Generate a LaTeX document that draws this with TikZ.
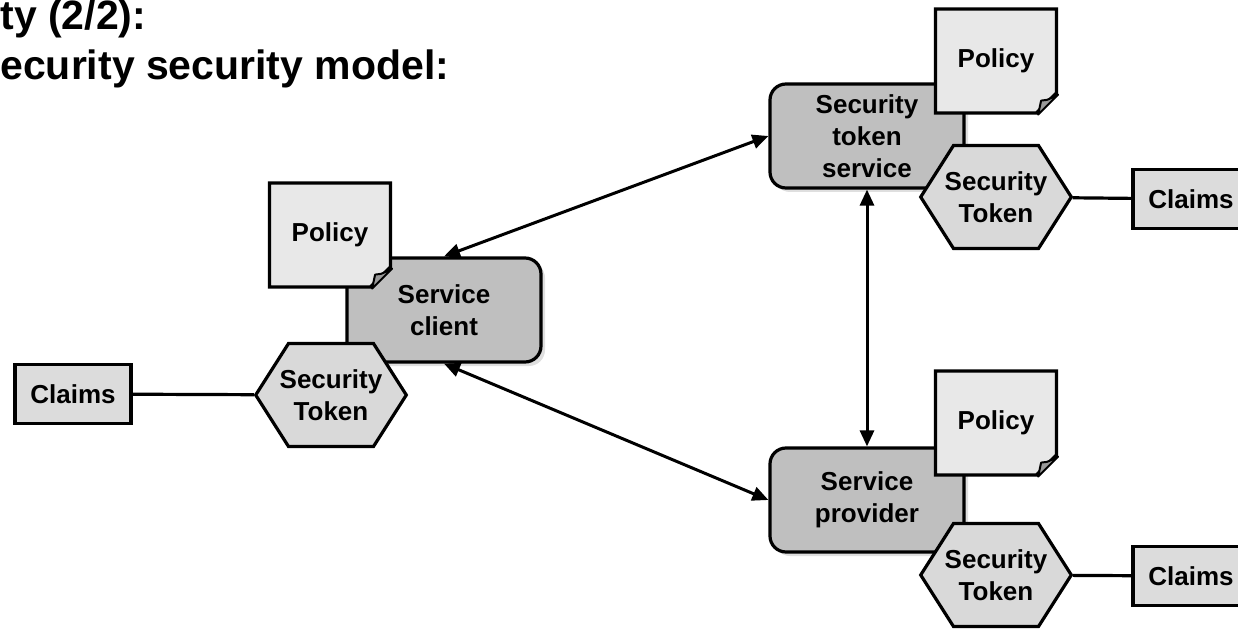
\documentclass[tikz,border=0pt]{standalone}
\usepackage{fontspec}
\setmainfont{Liberation Sans}
\usetikzlibrary{shapes.misc,shapes.symbols,arrows.meta,shadows}

\definecolor{svcgray}{HTML}{BFBFBF}
\definecolor{docgray}{HTML}{E8E8E8}
\definecolor{hexgray}{HTML}{D9D9D9}
\definecolor{claimgray}{HTML}{DCDCDC}
\definecolor{foldgray}{HTML}{9A9A9A}

\begin{document}
\begin{tikzpicture}[
    x=0.5pt, y=-0.5pt,
    every node/.style={font=\fontsize{13}{16}\selectfont\bfseries, align=center},
    title/.style={font=\fontsize{20.5}{25}\selectfont\bfseries, inner sep=0pt, anchor=base west},
    service/.style={rectangle, rounded corners=8pt, draw, line width=1.6pt, fill=svcgray,
        minimum width=97pt, minimum height=52pt,
        drop shadow={opacity=0.25, shadow xshift=2pt, shadow yshift=-2pt}},
    policy/.style={chamfered rectangle, chamfered rectangle corners=south east,
        chamfered rectangle xsep=5pt, chamfered rectangle ysep=5pt,
        draw, line width=1.6pt, fill=docgray, minimum width=60.5pt, minimum height=52pt},
    fold/.style={draw, line width=1pt, fill=foldgray, line join=round},
    token/.style={signal, signal to=west and east, signal pointer angle=115,
        draw, line width=1.6pt, fill=hexgray, minimum height=51.5pt,
        inner xsep=-4.4pt, inner ysep=1pt},
    claims/.style={rectangle, draw, line width=1.6pt, fill=claimgray, minimum width=58pt, minimum height=29.5pt},
    link/.style={line width=1.6pt},
    arrow/.style={{Triangle[length=8pt,width=7pt]}-{Triangle[length=8pt,width=7pt]}, line width=1.5pt},
]
\useasboundingbox (0,0) rectangle (1238,631);

% ====== Title ======
\node[title] (title1) at (0,30) {ty (2/2):};
\node[title] (title2) at (0,80) {ecurity security model:};

% ====== Service client ======
\node[service] (client) at (444,310) {Service\\client};
\node[policy] (cpol) at (330,235) {Policy};
\coordinate (cfold) at (cpol.north east |- cpol.south);
\filldraw[fold] ([yshift=10pt]cfold) .. controls ([shift={(-6pt,7pt)}]cfold) .. ([shift={(-8.5pt,7pt)}]cfold) -- ([xshift=-10pt]cfold) -- cycle;
\node[token] (ctok) at (331,395) {Security\\Token};
\node[claims] (cclaims) at (73,394) {Claims};

% ====== Security token service ======
\node[service] (sts) at (867,136) {Security\\token\\service};
\node[policy] (spol) at (996,61) {Policy};
\coordinate (sfold) at (spol.north east |- spol.south);
\filldraw[fold] ([yshift=10pt]sfold) .. controls ([shift={(-6pt,7pt)}]sfold) .. ([shift={(-8.5pt,7pt)}]sfold) -- ([xshift=-10pt]sfold) -- cycle;
\node[token] (stok) at (996,197) {Security\\Token};
\node[claims] (sclaims) at (1191,199) {Claims};

% ====== Service provider ======
\node[service] (prov) at (867,500) {Service\\provider};
\node[policy] (ppol) at (996,423) {Policy};
\coordinate (pfold) at (ppol.north east |- ppol.south);
\filldraw[fold] ([yshift=10pt]pfold) .. controls ([shift={(-6pt,7pt)}]pfold) .. ([shift={(-8.5pt,7pt)}]pfold) -- ([xshift=-10pt]pfold) -- cycle;
\node[token] (ptok) at (996,575) {Security\\Token};
\node[claims] (pclaims) at (1191,576) {Claims};

% ====== Connectors ======
\draw[link] (cclaims) -- (ctok);
\draw[link] (stok) -- (sclaims);
\draw[link] (ptok) -- (pclaims);

\draw[arrow] (client.north) -- (sts.west);
\draw[arrow] (client.south) -- (prov.west);
\draw[arrow] (sts.south) -- (prov.north);

\end{tikzpicture}
\end{document}
